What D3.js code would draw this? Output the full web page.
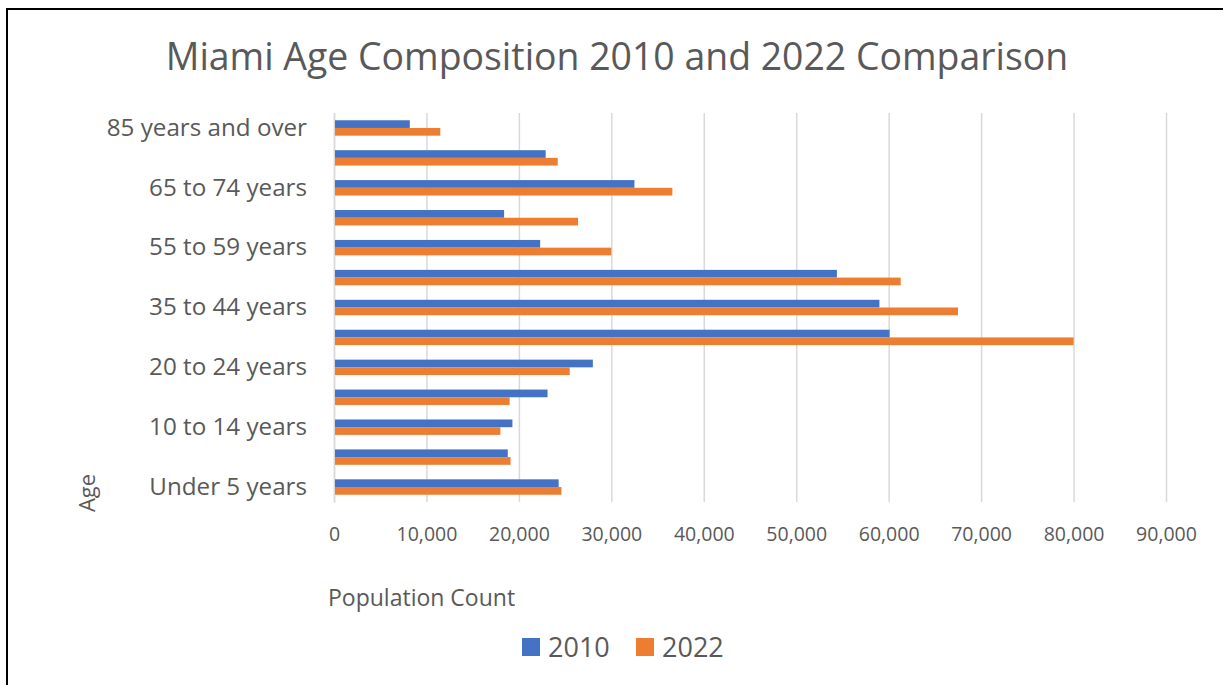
<!DOCTYPE html>
<html>
<head>
<meta charset="utf-8">
<script src="https://cdn.jsdelivr.net/npm/d3@7"></script>
<style>
  body { margin: 0; background: #fff; }
  text { font-family: "Open Sans", "Noto Sans", sans-serif; fill: #595959; }
</style>
</head>
<body>
<div id="chart"></div>
<script>
// age groups, top of chart first
var ageGroups = ["85 years and over", "75 to 84 years", "65 to 74 years", "60 to 64 years",
  "55 to 59 years", "45 to 54 years", "35 to 44 years", "25 to 34 years", "20 to 24 years",
  "15 to 19 years", "10 to 14 years", "5 to 9 years", "Under 5 years"];
var years = ["2010", "2022"];
var pop2010 = [8200, 22900, 32500, 18400, 22300, 54400, 59000, 60100, 28000, 23100, 19300, 18800, 24300];
var pop2022 = [11500, 24200, 36600, 26400, 30000, 61300, 67500, 80000, 25500, 19000, 18000, 19100, 24600];
var xTicks = [0, 10000, 20000, 30000, 40000, 50000, 60000, 70000, 80000, 90000];

var svgWidth = 1223;
var svgHeight = 685;

var margin = { top: 113, right: 57, bottom: 183, left: 334 };
var plotWidth = svgWidth - margin.left - margin.right;
var plotHeight = svgHeight - margin.top - margin.bottom;

var colors = { "2010": "#4472C4", "2022": "#ED7D31" };

var rows = ageGroups.map(function(g, i) {
  return { group: g, values: [{ year: "2010", value: pop2010[i] }, { year: "2022", value: pop2022[i] }] };
});

var svg = d3.select("#chart")
  .append("svg")
  .attr("width", svgWidth)
  .attr("height", svgHeight);

// frame edges
svg.append("line").attr("x1", 7).attr("x2", 7).attr("y1", 8).attr("y2", svgHeight)
  .attr("stroke", "#000").attr("stroke-width", 2);
svg.append("line").attr("x1", 6).attr("x2", svgWidth).attr("y1", 9).attr("y2", 9)
  .attr("stroke", "#000").attr("stroke-width", 2);

svg.append("text")
  .attr("x", 617)
  .attr("y", 70)
  .attr("text-anchor", "middle")
  .attr("font-size", "37.4px")
  .text("Miami Age Composition 2010 and 2022 Comparison");

var chartGroup = svg.append("g")
  .attr("transform", `translate(${margin.left}, ${margin.top})`);

var xScale = d3.scaleLinear()
  .domain([0, 90000])
  .range([0, plotWidth]);

var yScale = d3.scaleBand()
  .domain(ageGroups)
  .range([0, plotHeight])
  .paddingInner(0.485)
  .paddingOuter(0.2425);

var yInner = d3.scaleBand()
  .domain(years)
  .range([0, yScale.bandwidth()]);

// gridlines
chartGroup.append("g")
  .call(d3.axisBottom(xScale).tickValues(xTicks).tickSize(plotHeight).tickFormat(""))
  .call(g => g.select(".domain").remove())
  .call(g => g.selectAll("line").attr("stroke", "#D9D9D9").attr("stroke-width", 1.5));

// x axis labels
chartGroup.append("g")
  .attr("transform", `translate(0, ${plotHeight})`)
  .call(d3.axisBottom(xScale).tickValues(xTicks).tickSize(0).tickPadding(25).tickFormat(d3.format(",")))
  .call(g => g.select(".domain").remove())
  .call(g => g.selectAll("text").attr("font-size", "19.5px").attr("font-family", null).attr("fill", null));

// y axis
chartGroup.append("g")
  .call(d3.axisLeft(yScale).tickSize(0).tickPadding(27)
    .tickFormat((d, i) => i % 2 === 0 ? d : ""))
  .call(g => g.select(".domain").attr("stroke", "#D9D9D9").attr("stroke-width", 1.5))
  .call(g => g.selectAll("text").attr("font-size", "24.2px").attr("font-family", null).attr("fill", null));

// bars
var rowGroups = chartGroup.selectAll(".row")
  .data(rows)
  .enter()
  .append("g")
  .attr("class", "row")
  .attr("transform", d => `translate(0, ${yScale(d.group)})`);

rowGroups.selectAll("rect")
  .data(d => d.values)
  .enter()
  .append("rect")
  .attr("x", xScale(0) + 1)
  .attr("y", d => yInner(d.year))
  .attr("width", d => xScale(d.value) - xScale(0) - 1)
  .attr("height", yInner.bandwidth())
  .attr("fill", d => colors[d.year]);

// axis titles
svg.append("text")
  .attr("x", 328)
  .attr("y", 606)
  .attr("font-size", "23px")
  .text("Population Count");

svg.append("text")
  .attr("transform", "translate(95, 493) rotate(-90)")
  .attr("text-anchor", "middle")
  .attr("font-size", "22px")
  .text("Age");

// legend
var legend = svg.append("g").attr("transform", "translate(522, 638)");
var legendItems = legend.selectAll("g")
  .data(years)
  .enter()
  .append("g")
  .attr("transform", (d, i) => `translate(${i * 114}, 0)`);

legendItems.append("rect")
  .attr("width", 18)
  .attr("height", 18)
  .attr("fill", d => colors[d]);

legendItems.append("text")
  .attr("x", 26)
  .attr("y", 19)
  .attr("font-size", "27px")
  .text(d => d);
</script>
</body>
</html>
